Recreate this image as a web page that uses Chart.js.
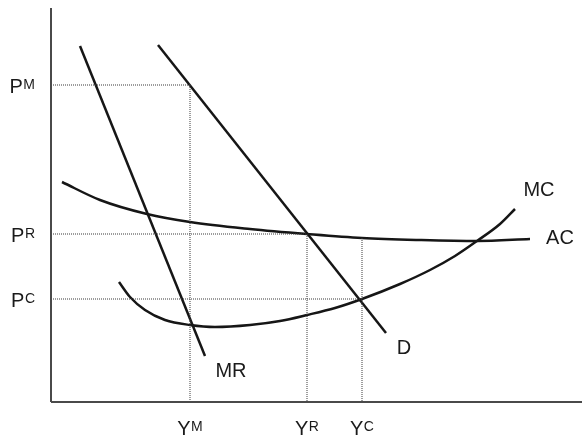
<!DOCTYPE html>
<html>
<head>
<meta charset="utf-8">
<script src="https://cdn.jsdelivr.net/npm/chart.js@4.4.1/dist/chart.umd.min.js"></script>
<style>
  body { margin: 0; background: #fff; }
  #wrap { width: 583px; height: 435px; }
</style>
</head>
<body>
<div id="wrap"><canvas id="diagram" width="583" height="435"></canvas></div>
<script>
// Curve data (quantity on x, price on y, arbitrary units)
const mrX = [29, 154];
const mrY = [356, 46];
const dX = [107, 335];
const dY = [357, 69];
const acX = [11, 49, 96, 139, 199, 256, 311, 369, 426, 479];
const acY = [220, 202, 188, 180, 173, 168, 164, 162, 161, 163];
const mcX = [68, 79, 94, 114, 139, 164, 199, 229, 256, 284, 311, 349, 379, 404, 426, 449, 464];
const mcY = [120, 105, 92, 82, 77, 75, 77, 81, 87, 94, 103, 118, 132, 146, 161, 178, 193];

// Price / quantity levels
const priceNames = ['M', 'R', 'C'];
const priceLevels = [317, 168, 103];
const qtyNames = ['M', 'R', 'C'];
const qtyLevels = [139, 256, 311];
// where the vertical guide lines start (upper end)
const qtyGuideTop = [317, 168, 164];

// Curve labels: text, x, y
const curveLabels = ['MR', 'D', 'MC', 'AC'];
const curveLabelX = [180, 353, 488, 509];
const curveLabelY = [32, 55, 213, 165];

const xMax = 531;
const yMax = 394;

function pts(xs, ys) {
    return xs.map(function(x, i) { return { x: x, y: ys[i] }; });
}

const inkColor = '#161616';
const guideColor = '#3a3a3a';

const datasets = [];

// axes
datasets.push({ data: pts([0, 0], [0, yMax]), borderColor: '#4a4a4a', borderWidth: 2 });
datasets.push({ data: pts([0, xMax], [0, 0]), borderColor: '#4a4a4a', borderWidth: 2 });

// dotted guides
priceLevels.forEach(function(p, i) {
    datasets.push({
        data: pts([0, qtyLevels[i]], [p, p]),
        borderColor: guideColor, borderWidth: 1, borderDash: [1, 1]
    });
    datasets.push({
        data: pts([qtyLevels[i], qtyLevels[i]], [qtyGuideTop[i], 0]),
        borderColor: guideColor, borderWidth: 1, borderDash: [1, 1]
    });
});

// curves
datasets.push({ data: pts(mrX, mrY), borderColor: inkColor, borderWidth: 2.5 });
datasets.push({ data: pts(dX, dY), borderColor: inkColor, borderWidth: 2.5 });
datasets.push({ data: pts(acX, acY), borderColor: inkColor, borderWidth: 2.5, cubicInterpolationMode: 'monotone' });
datasets.push({ data: pts(mcX, mcY), borderColor: inkColor, borderWidth: 2.5, cubicInterpolationMode: 'monotone' });

datasets.forEach(function(ds) {
    ds.showLine = true;
    ds.pointRadius = 0;
    ds.pointHoverRadius = 0;
    ds.fill = false;
    ds.clip = false;
});

const mainFont = '20px "Liberation Sans", Arial, sans-serif';
const supFont = '14px "Liberation Sans", Arial, sans-serif';
const mainCap = 20 * 0.716;
const supCap = 14 * 0.716;

// draws a letter with a superscript; align: 'right' or 'center'
function drawSup(ctx, base, sup, px, py, align) {
    ctx.font = mainFont;
    const w1 = ctx.measureText(base).width;
    ctx.font = supFont;
    const w2 = ctx.measureText(sup).width;
    const total = w1 + 0.5 + w2;
    let left = align === 'right' ? px - total : px - total / 2;
    const baseline = py + mainCap / 2;
    ctx.textAlign = 'left';
    ctx.textBaseline = 'alphabetic';
    ctx.font = mainFont;
    ctx.fillText(base, left, baseline);
    ctx.font = supFont;
    ctx.fillText(sup, left + w1 + 0.5, baseline - mainCap + supCap);
}

const labelPlugin = {
    id: 'econLabels',
    afterDatasetsDraw: function(chart) {
        const ctx = chart.ctx;
        const xs = chart.scales.x;
        const ys = chart.scales.y;
        ctx.save();
        ctx.fillStyle = '#1a1a1a';

        priceLevels.forEach(function(p, i) {
            drawSup(ctx, 'P', priceNames[i], xs.getPixelForValue(-16), ys.getPixelForValue(p) + 1, 'right');
        });
        qtyLevels.forEach(function(q, i) {
            drawSup(ctx, 'Y', qtyNames[i], xs.getPixelForValue(q), ys.getPixelForValue(-26), 'center');
        });

        ctx.font = mainFont;
        ctx.textAlign = 'center';
        ctx.textBaseline = 'alphabetic';
        curveLabels.forEach(function(t, i) {
            const cy = ys.getPixelForValue(curveLabelY[i]);
            ctx.fillText(t, xs.getPixelForValue(curveLabelX[i]), cy + mainCap / 2);
        });
        ctx.restore();
    }
};

const ctx = document.getElementById('diagram').getContext('2d');
new Chart(ctx, {
    type: 'scatter',
    data: { datasets: datasets },
    options: {
        responsive: false,
        animation: false,
        events: [],
        layout: {
            padding: { left: 51, right: 1, top: 8, bottom: 33 }
        },
        scales: {
            x: { type: 'linear', min: 0, max: xMax, display: false },
            y: { type: 'linear', min: 0, max: yMax, display: false }
        },
        plugins: {
            legend: { display: false },
            tooltip: { enabled: false }
        }
    },
    plugins: [labelPlugin]
});
</script>
</body>
</html>
